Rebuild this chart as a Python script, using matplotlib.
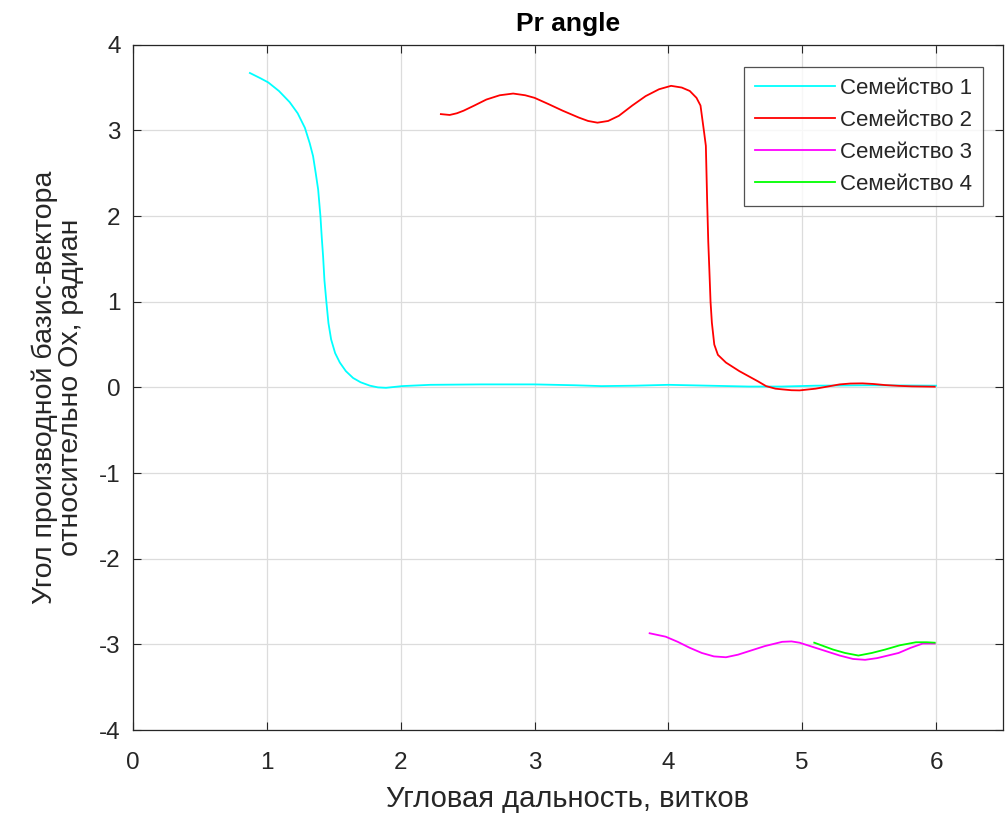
import matplotlib
matplotlib.use("Agg")
import matplotlib.pyplot as plt

plt.rcParams['font.family'] = ['Liberation Sans', 'DejaVu Sans']

# Family 1
fam1_x = [0.873, 0.95, 1.01, 1.09, 1.17, 1.23, 1.284, 1.32, 1.345, 1.365, 1.383, 1.40,
          1.41, 1.42, 1.43, 1.445, 1.46, 1.48, 1.51, 1.545, 1.59, 1.644, 1.70, 1.77,
          1.83, 1.89, 1.95, 2.01, 2.22, 2.6, 3.0, 3.3, 3.5, 3.75, 4.0, 4.3, 4.6, 4.85,
          5.1, 5.5, 6.0]
fam1_y = [3.67, 3.61, 3.56, 3.46, 3.33, 3.20, 3.03, 2.85, 2.70, 2.50, 2.31, 2.0,
          1.75, 1.53, 1.25, 0.99, 0.75, 0.56, 0.40, 0.29, 0.19, 0.11, 0.06, 0.02,
          0.0, -0.005, 0.005, 0.015, 0.03, 0.035, 0.035, 0.025, 0.015, 0.02, 0.03,
          0.02, 0.01, 0.01, 0.02, 0.025, 0.02]

# Family 2
fam2_x = [2.30, 2.366, 2.42, 2.47, 2.55, 2.64, 2.74, 2.84, 2.93, 3.0, 3.10, 3.21,
          3.33, 3.40, 3.47, 3.55, 3.63, 3.73, 3.83, 3.93, 4.02, 4.10, 4.16, 4.21,
          4.24, 4.265, 4.28, 4.29, 4.298, 4.306, 4.315, 4.325, 4.343, 4.37, 4.43,
          4.53, 4.60, 4.67, 4.73, 4.80, 4.85, 4.92, 4.98, 5.10, 5.19, 5.28, 5.36,
          5.45, 5.53, 5.62, 5.72, 5.82, 5.99]
fam2_y = [3.19, 3.18, 3.20, 3.23, 3.29, 3.36, 3.41, 3.43, 3.41, 3.38, 3.31, 3.23,
          3.15, 3.11, 3.09, 3.11, 3.17, 3.29, 3.40, 3.48, 3.52, 3.50, 3.46, 3.38,
          3.29, 3.00, 2.82, 2.16, 1.70, 1.38, 1.00, 0.755, 0.50, 0.38, 0.29,
          0.19, 0.13, 0.07, 0.015, -0.015, -0.023, -0.033, -0.035, -0.015, 0.01,
          0.035, 0.045, 0.047, 0.04, 0.027, 0.018, 0.012, 0.008]

# Family 3
fam3_x = [3.86, 3.92, 3.98, 4.07, 4.16, 4.25, 4.34, 4.43, 4.52, 4.60, 4.72, 4.85,
          4.92, 4.98, 5.08, 5.18, 5.28, 5.38, 5.47, 5.56, 5.64, 5.72, 5.81, 5.90, 5.99]
fam3_y = [-2.87, -2.89, -2.91, -2.97, -3.04, -3.10, -3.14, -3.15, -3.12, -3.08,
          -3.02, -2.97, -2.965, -2.98, -3.03, -3.08, -3.13, -3.17, -3.18, -3.16,
          -3.13, -3.10, -3.04, -2.99, -2.99]

# Family 4
fam4_x = [5.09, 5.16, 5.23, 5.32, 5.42, 5.52, 5.62, 5.73, 5.85, 5.93, 5.99]
fam4_y = [-2.98, -3.02, -3.06, -3.10, -3.13, -3.10, -3.06, -3.01, -2.975, -2.975, -2.98]

labels = ['Семейство 1', 'Семейство 2', 'Семейство 3', 'Семейство 4']
colors = ['#00FFFF', '#FF0000', '#FF00FF', '#00FF00']

x_ticks = [0, 1, 2, 3, 4, 5, 6]
y_ticks = [-4, -3, -2, -1, 0, 1, 2, 3, 4]

axis_color = '#262626'

fig = plt.figure(figsize=(10.08, 8.13), dpi=100)
ax = fig.add_axes([0.132, 0.102, 0.863, 0.843])

series = [(fam1_x, fam1_y), (fam2_x, fam2_y), (fam3_x, fam3_y), (fam4_x, fam4_y)]
for (xs, ys), lab, col in zip(series, labels, colors):
    ax.plot(xs, ys, color=col, lw=1.3, label=lab, solid_joinstyle='round')

ax.set_xlim(0, 6.5)
ax.set_ylim(-4, 4)
ax.set_xticks(x_ticks)
ax.set_yticks(y_ticks)
ax.set_xticklabels([str(v) for v in x_ticks])
ax.set_yticklabels([str(v) for v in y_ticks])
ax.grid(True, color='#dcdcdc', lw=0.9)
ax.set_axisbelow(True)

ax.tick_params(direction='in', top=True, right=True, length=6, width=0.8,
               colors=axis_color, labelsize=17.5)
ax.tick_params(axis='x', pad=16)
ax.tick_params(axis='y', pad=9)
for sp in ax.spines.values():
    sp.set_color(axis_color)
    sp.set_linewidth(0.9)

ax.set_title('Pr angle', fontsize=19, fontweight='bold', color='black', pad=10)
ax.set_xlabel('Угловая дальность, витков', fontsize=21, color=axis_color, labelpad=8)
ax.set_ylabel('Угол производной базис-вектора\nотносительно Ox, радиан',
              fontsize=20.5, color=axis_color, labelpad=11, linespacing=1.0)

leg = ax.legend(loc='upper right', fontsize=16, frameon=True, fancybox=False,
                edgecolor=axis_color, handlelength=3.6, borderpad=0.5,
                labelspacing=0.5, handletextpad=0.2, borderaxespad=0,
                bbox_to_anchor=(0.977, 0.968))
leg.get_frame().set_linewidth(0.9)
for t in leg.get_texts():
    t.set_color(axis_color)

fig.savefig('out.png', dpi=100)
